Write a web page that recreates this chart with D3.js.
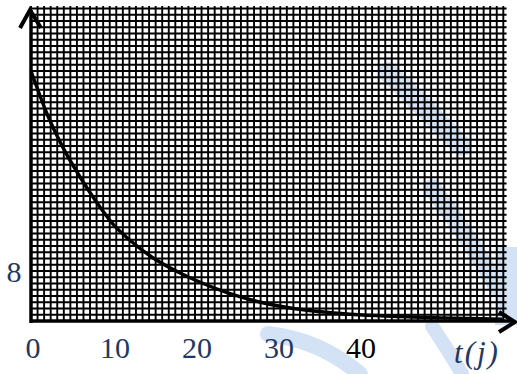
<!DOCTYPE html>
<html>
<head>
<meta charset="utf-8">
<script src="https://cdn.jsdelivr.net/npm/d3@7"></script>
<style>
  html, body { margin: 0; padding: 0; background: #fff; }
  svg { display: block; }
  text { font-family: "Liberation Serif", "Times New Roman", serif; }
</style>
</head>
<body>
<div id="chart"></div>
<script>
const tValues = [0, 2, 4, 6, 8, 10, 12, 15, 18, 21, 24, 28, 32, 36, 40, 45, 50, 55, 57.5];
const yValues = [40, 33, 27.5, 23, 19, 15.5, 13, 10, 7.8, 6, 4.5, 3, 2, 1.4, 1.0, 0.7, 0.5, 0.35, 0.3];
const xTickLabels = [0, 10, 20, 30, 40];
const yTickLabels = [8];
const xAxisTitle = 't(j)';

const width = 517, height = 374;
const x0 = 31, yBase = 321;

const x = d3.scaleLinear().domain([0, 58]).range([x0, x0 + 58 * 8.2]);
const y = d3.scaleLinear().domain([0, 50.4]).range([yBase, 6]);

const svg = d3.select('#chart')
  .append('svg')
  .attr('width', width)
  .attr('height', height);

// filigrane bleu clair (décor)
const wm = svg.append('g')
  .attr('fill', 'none')
  .attr('stroke', '#d3e2f4')
  .attr('stroke-linecap', 'round');
wm.append('path').attr('d', 'M388,72 Q425,108 462,146').attr('stroke-width', 20);
wm.append('path').attr('d', 'M432,188 Q466,232 498,288').attr('stroke-width', 18);
wm.append('path').attr('d', 'M500,250 L517,250 L517,322 L498,322 Z').attr('stroke-width', 6).attr('fill', '#d3e2f4');
wm.append('path').attr('d', 'M268,334 Q320,340 360,374').attr('stroke-width', 16);
wm.append('path').attr('d', 'M432,326 Q448,350 462,374').attr('stroke-width', 14);

// quadrillage (papier millimétré)
const grid = svg.append('g')
  .attr('stroke', '#000')
  .attr('stroke-width', 1.9);

grid.selectAll('.vline')
  .data(d3.range(0, 58.01, 0.8))
  .enter()
  .append('line')
  .attr('x1', d => x(d))
  .attr('x2', d => x(d))
  .attr('y1', y(50.4))
  .attr('y2', yBase);

grid.selectAll('.hline')
  .data(d3.range(0, 50.41, 1))
  .enter()
  .append('line')
  .attr('x1', x0)
  .attr('x2', x(58))
  .attr('y1', d => y(d))
  .attr('y2', d => y(d));

// courbe
const line = d3.line()
  .x(d => x(d[0]))
  .y(d => y(d[1]))
  .curve(d3.curveMonotoneX);

svg.append('path')
  .datum(tValues.map((t, i) => [t, yValues[i]]))
  .attr('fill', 'none')
  .attr('stroke', '#000')
  .attr('stroke-width', 3.4)
  .attr('d', line);

// axes avec flèches
const axes = svg.append('g')
  .attr('stroke', '#000')
  .attr('fill', 'none')
  .attr('stroke-linecap', 'butt');

axes.append('line')
  .attr('x1', x(0)).attr('x2', x(0))
  .attr('y1', yBase + 2).attr('y2', 10)
  .attr('stroke-width', 3.5);
axes.append('path')
  .attr('d', `M${x(0) - 11},28 L${x(0) - 1},10 L${x(0) + 10},28`)
  .attr('stroke-width', 4);

axes.append('line')
  .attr('x1', x(0) - 1).attr('x2', 514)
  .attr('y1', yBase).attr('y2', yBase)
  .attr('stroke-width', 3.5);
axes.append('path')
  .attr('d', `M499,312 L515,${yBase + 1} L499,332`)
  .attr('stroke-width', 4);

// graduations
svg.append('g')
  .selectAll('text')
  .data(xTickLabels)
  .enter()
  .append('text')
  .attr('x', d => x(d) + 2)
  .attr('y', 358)
  .attr('text-anchor', 'middle')
  .attr('font-size', 30)
  .attr('fill', d => d === 40 ? '#000' : '#1f3864')
  .text(d => d);

svg.append('g')
  .selectAll('text')
  .data(yTickLabels)
  .enter()
  .append('text')
  .attr('x', 14)
  .attr('y', d => y(d) + 11)
  .attr('text-anchor', 'middle')
  .attr('font-size', 30)
  .attr('fill', '#1f3864')
  .text(d => d);

svg.append('text')
  .attr('x', 477)
  .attr('y', 363)
  .attr('text-anchor', 'middle')
  .attr('font-size', 31)
  .attr('font-style', 'italic')
  .attr('letter-spacing', 2)
  .attr('fill', '#1f3864')
  .text(xAxisTitle);
</script>
</body>
</html>
